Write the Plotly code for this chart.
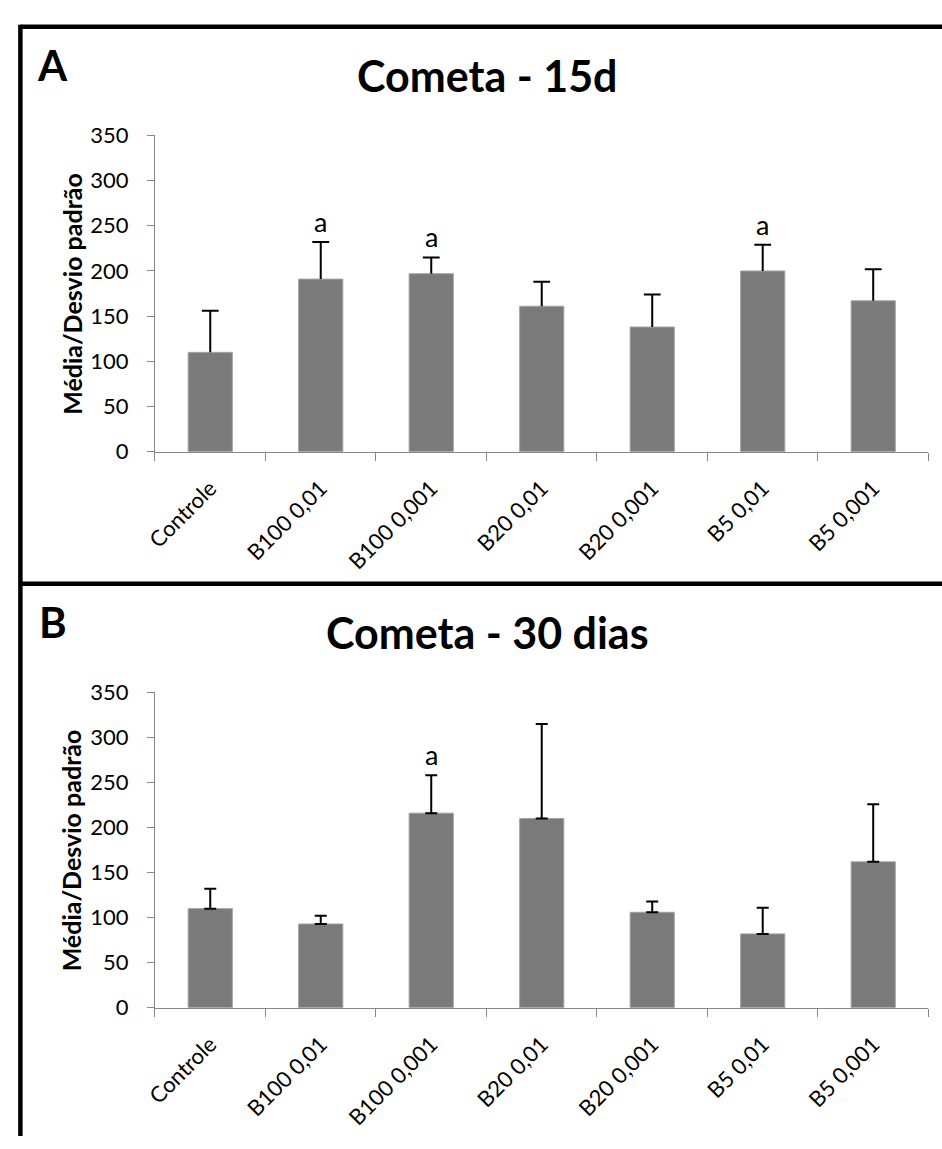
import plotly.graph_objects as go

# Treatment groups (x-axis categories)
categories = ["Controle", "B100 0,01", "B100 0,001", "B20 0,01",
              "B20 0,001", "B5 0,01", "B5 0,001"]

# Panel A - Cometa, 15 days: mean and standard deviation
mean_15d = [110, 191, 197, 161, 138, 200, 167]
sd_15d = [46, 41, 18, 27, 36, 29, 35]
sig_15d = ["", "a", "a", "", "", "a", ""]

# Panel B - Cometa, 30 days: mean and standard deviation
mean_30d = [110, 93, 216, 210, 106, 82, 162]
sd_30d = [22, 9, 42, 105, 12, 29, 64]
sig_30d = ["", "", "a", "", "", "", ""]

y_ticks = [0, 50, 100, 150, 200, 250, 300, 350]

W, H = 942, 1149
FONT = "Lato"
BAR_FILL = "#7a7a7a"
BAR_EDGE = "#a3a3a3"
AXIS_GREY = "#868686"

fig = go.Figure()

# Panel A: bars with upward-only whiskers
fig.add_trace(go.Bar(
    x=categories, y=mean_15d, width=0.4,
    marker=dict(color=BAR_FILL, line=dict(color=BAR_EDGE, width=1)),
    xaxis="x", yaxis="y", showlegend=False, hoverinfo="skip"))
fig.add_trace(go.Scatter(
    x=categories, y=[m + s for m, s in zip(mean_15d, sd_15d)],
    mode="markers",
    marker=dict(symbol="line-ew", size=12, color="black",
                line=dict(color="black", width=2)),
    error_y=dict(type="data", symmetric=False, array=[0] * len(sd_15d),
                 arrayminus=sd_15d, color="black", thickness=2, width=0),
    xaxis="x", yaxis="y", showlegend=False, hoverinfo="skip"))

# Panel B: bars with caps at both ends of the whisker
fig.add_trace(go.Bar(
    x=categories, y=mean_30d, width=0.4,
    marker=dict(color=BAR_FILL, line=dict(color=BAR_EDGE, width=1)),
    error_y=dict(type="data", symmetric=False, array=sd_30d,
                 arrayminus=[0] * len(sd_30d), color="black",
                 thickness=2, width=6),
    xaxis="x2", yaxis="y2", showlegend=False, hoverinfo="skip"))

x_dom = [145.7 / W, 928.3 / W]
yA_dom = [1 - 448.3 / H, 1 - 124.3 / H]
yB_dom = [1 - 1017.7 / H, 1 - 694.7 / H]

xaxis_style = dict(
    type="category", range=[-0.5, len(categories) - 0.5], domain=x_dom,
    showline=True, linecolor=AXIS_GREY, linewidth=1,
    ticks="outside", tickson="boundaries", ticklen=8, tickcolor=AXIS_GREY,
    tickwidth=1, tickangle=-45, showgrid=False, zeroline=False,
    tickfont=dict(family=FONT, size=22, color="black"),
    ticklabelstandoff=14, fixedrange=True)
yaxis_style = dict(
    range=[0, 350], tickvals=y_ticks, showline=True, linecolor=AXIS_GREY,
    linewidth=1, ticks="outside", ticklen=7, tickcolor=AXIS_GREY,
    tickwidth=1, showgrid=False, zeroline=False,
    tickfont=dict(family=FONT, size=22, color="black"),
    ticklabelstandoff=14, fixedrange=True)

annotations = []

# significance letters above the whiskers
for cat, m, s, lab in zip(categories, mean_15d, sd_15d, sig_15d):
    if lab:
        annotations.append(dict(x=cat, y=m + s, xref="x", yref="y",
                                text=lab, showarrow=False, yanchor="bottom",
                                yshift=2, font=dict(family=FONT, size=27,
                                                    color="black")))
for cat, m, s, lab in zip(categories, mean_30d, sd_30d, sig_30d):
    if lab:
        annotations.append(dict(x=cat, y=m + s, xref="x2", yref="y2",
                                text=lab, showarrow=False, yanchor="bottom",
                                yshift=2, font=dict(family=FONT, size=27,
                                                    color="black")))

# panel letters, titles and y-axis titles
for letter, title, yl, yt, ydom in [
        ("A", "Cometa - 15d", 52.5, 62.5, yA_dom),
        ("B", "Cometa - 30 dias", 623, 633.5, yB_dom)]:
    annotations.append(dict(x=42 / W, y=1 - yl / H, xref="paper",
                            yref="paper", text="<b>%s</b>" % letter,
                            showarrow=False, xanchor="center",
                            yanchor="middle",
                            font=dict(family=FONT, size=42, color="black")))
    annotations.append(dict(x=482 / W, y=1 - yt / H, xref="paper",
                            yref="paper", text="<b>%s</b>" % title,
                            showarrow=False, xanchor="center",
                            yanchor="middle",
                            font=dict(family=FONT, size=43, color="black")))
    annotations.append(dict(x=61 / W, y=(ydom[0] + ydom[1]) / 2,
                            xref="paper", yref="paper",
                            text="<b>Média/Desvio padrão</b>",
                            textangle=-90, showarrow=False,
                            xanchor="center", yanchor="middle",
                            font=dict(family=FONT, size=25, color="black")))

# panel frames
frame = dict(color="black", width=4.5)
shapes = [
    dict(type="line", xref="paper", yref="paper", x0=9.5 / W, x1=1.0,
         y0=1 - 13 / H, y1=1 - 13 / H, line=frame),
    dict(type="line", xref="paper", yref="paper", x0=9.5 / W, x1=1.0,
         y0=1 - 583.5 / H, y1=1 - 583.5 / H, line=frame),
    dict(type="line", xref="paper", yref="paper", x0=9.5 / W, x1=9.5 / W,
         y0=1 - 11 / H, y1=0, line=frame),
]

fig.update_layout(
    width=W, height=H, margin=dict(l=0, r=0, t=0, b=0),
    paper_bgcolor="white", plot_bgcolor="white",
    xaxis=dict(xaxis_style, anchor="y"),
    yaxis=dict(yaxis_style, domain=yA_dom, anchor="x"),
    xaxis2=dict(xaxis_style, anchor="y2"),
    yaxis2=dict(yaxis_style, domain=yB_dom, anchor="x2"),
    annotations=annotations, shapes=shapes,
    font=dict(family=FONT, color="black"),
    bargap=0.6,
)

# keep the page exactly the size of the figure
fig.write_html("out.html", config={"displayModeBar": False},
               post_script="document.body.style.margin='0';"
                           "document.body.style.overflow='hidden';")
